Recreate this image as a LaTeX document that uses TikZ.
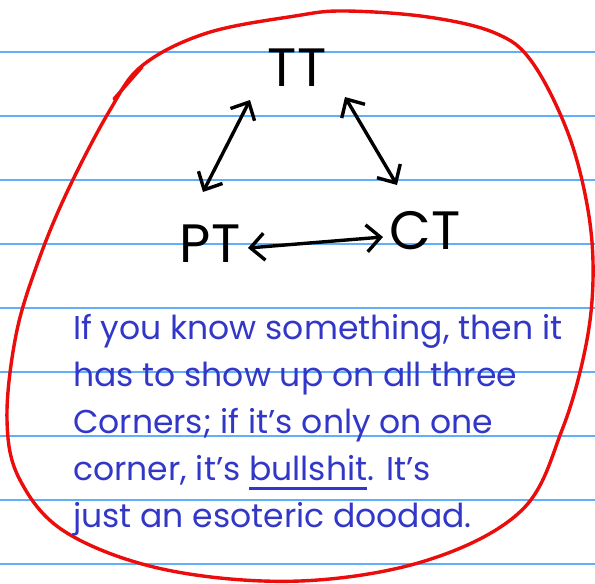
\documentclass[tikz,border=0pt]{standalone}
\usepackage{fontspec}
\setmainfont{Poppins}
\usetikzlibrary{arrows.meta}
\definecolor{ruleblue}{RGB}{95,175,250}
\definecolor{inkred}{RGB}{235,12,12}
\definecolor{inkblue}{RGB}{50,55,200}
\tikzset{
  corner/.style={inner sep=2pt, text=black, font=\fontsize{54}{54}\selectfont},
  dblarr/.style={{Straight Barb[length=14pt,width=27pt]}-{Straight Barb[length=14pt,width=27pt]},
                 line width=3.4pt, line cap=round, line join=round},
  ruling/.style={ruleblue, line width=1.2pt},
  redloop/.style={inkred, line width=3.4pt, line cap=round, line join=round},
  note/.style={inner sep=0pt, align=left, text=inkblue, font=\fontsize{33}{47}\selectfont},
}
\newcommand{\bsline}[1]{\setbox0\hbox{#1}\rlap{\rule[-10pt]{\wd0}{3pt}}\box0}

\begin{document}
\begin{tikzpicture}[x=1pt,y=-1pt]
\useasboundingbox (0,0) rectangle (595,584);
\fill[white] (0,0) rectangle (595,584);
% ruled paper
\foreach \y in {52,116,...,564}
  \draw[ruling] (0,\y) -- (595,\y);
% red loop round everything
\draw[redloop] plot[smooth cycle, tension=0.6] coordinates {
  (143,65) (207,33) (295,16) (345,11) (428,17) (495,33) (532,62) (568,133)
  (588,210) (593,280) (585,350) (562,430) (522,510) (428,560) (300,581)
  (167,570) (67,533) (20,480) (7,420) (16,335) (38,262) (68,190) (110,110)};
\draw[redloop] (114,99) -- (142,67);
% the three corners
\node[corner] (TT) at (297,68) {TT};
\node[corner] (PT) at (210,244) {PT};
\node[corner] (CT) at (425,231) {CT};
\draw[dblarr] ([shift={(-47,32)}]TT.center) -- ([shift={(-7,-52)}]PT.center);
\draw[dblarr] ([shift={(48,29)}]TT.center) -- ([shift={(-28,-46)}]CT.center);
\draw[dblarr] ([shift={(38,4)}]PT.center) -- ([shift={(-42,6)}]CT.center);
% handwritten note
\node[note, anchor=north west] (txt) at (73,314) {If you know something, then it\\
  has to show up on all three\\
  Corners; if it's only on one\\
  corner, it's \bsline{bullshit}. It's\\
  just an esoteric doodad.};
\end{tikzpicture}
\end{document}
